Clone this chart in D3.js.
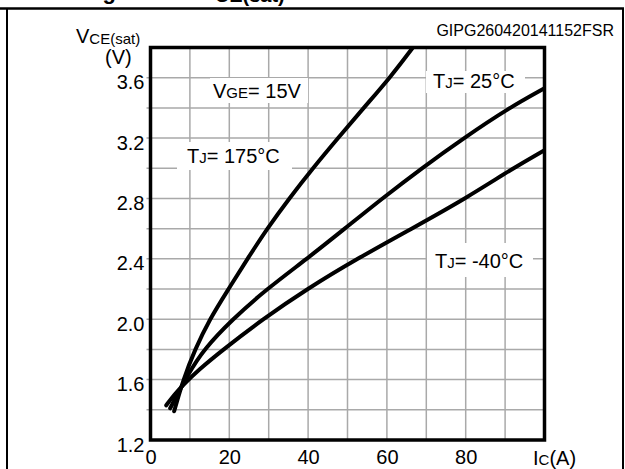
<!DOCTYPE html>
<html>
<head>
<meta charset="utf-8">
<script src="https://cdn.jsdelivr.net/npm/d3@7"></script>
<style>
  body { margin: 0; background: #fff; }
  svg { display: block; font-family: "Liberation Sans", Arial, sans-serif; }
</style>
</head>
<body>
<svg id="chart" width="625" height="469"></svg>
<script>
// collector current (A) and VCE(sat) (V)
const icT175 = [6, 8.3, 11.3, 15, 19.8, 24.6, 29.6, 35.2, 41.2, 47.6, 54.1, 60.8, 66.6];
const vT175  = [1.39, 1.6, 1.8, 2.0, 2.2, 2.4, 2.6, 2.8, 3.0, 3.2, 3.4, 3.6, 3.8];
const icT25  = [5, 9.6, 13.5, 20.8, 29.5, 39.7, 49.3, 58.8, 68.8, 79.5, 91, 100];
const vT25   = [1.41, 1.64, 1.8, 2.0, 2.2, 2.4, 2.6, 2.8, 3.0, 3.2, 3.4, 3.53];
const icTm40 = [4, 6, 8.5, 12, 18.5, 28.5, 39.7, 52.4, 66.3, 80, 92, 100];
const vTm40  = [1.43, 1.5, 1.57, 1.66, 1.8, 2.0, 2.2, 2.4, 2.6, 2.8, 3.0, 3.12];

const xTicks = [0, 20, 40, 60, 80];
const yTicks = [1.2, 1.6, 2.0, 2.4, 2.8, 3.2, 3.6];
const xGrid = [10, 20, 30, 40, 50, 60, 70, 80, 90];
const yGrid = [1.4, 1.6, 1.8, 2.0, 2.2, 2.4, 2.6, 2.8, 3.0, 3.2, 3.4, 3.6];

const svg = d3.select('#chart');
const font = '"Liberation Sans", Arial, sans-serif';

const x = d3.scaleLinear().domain([0, 100]).range([150.5, 544.5]);
const y = d3.scaleLinear().domain([1.2, 3.8]).range([440, 47.5]);

// page frame and the title that is cut off above it
svg.append('line').attr('x1', 0).attr('x2', 624).attr('y1', 8.5).attr('y2', 8.5)
  .attr('stroke', '#000').attr('stroke-width', 2.5);
svg.append('line').attr('x1', 7).attr('x2', 7).attr('y1', 8.5).attr('y2', 469)
  .attr('stroke', '#000').attr('stroke-width', 2);
svg.append('line').attr('x1', 623).attr('x2', 623).attr('y1', 8.5).attr('y2', 469)
  .attr('stroke', '#000').attr('stroke-width', 2);

let title = svg.append('text').attr('font-weight', 'bold').attr('font-size', 22).attr('y', -1);
title.append('tspan').attr('x', 83).text('Figure 7.');
title.append('tspan').attr('x', 200).text('V');
title.append('tspan').attr('font-size', 20).attr('dy', 3).text('CE(sat)');
title.append('tspan').attr('dy', -3).text(' vs. collector current');

// grid
const grid = svg.append('g').attr('stroke', '#a9a9a9').attr('stroke-width', 1.5);
grid.selectAll('.gx').data(xGrid).enter().append('line')
  .attr('x1', d => x(d)).attr('x2', d => x(d))
  .attr('y1', y(3.8)).attr('y2', y(1.2));
grid.selectAll('.gy').data(yGrid).enter().append('line')
  .attr('x1', x(0) - 4).attr('x2', x(100))
  .attr('y1', d => y(d)).attr('y2', d => y(d));

// white boxes behind the annotations
const boxes = [[210, 78, 98, 25], [426, 71, 99, 22], [177, 142, 115, 28], [427, 243, 106, 34]];
svg.selectAll('.box').data(boxes).enter().append('rect')
  .attr('x', d => d[0]).attr('y', d => d[1])
  .attr('width', d => d[2]).attr('height', d => d[3])
  .attr('fill', '#fff');

// curves
svg.append('clipPath').attr('id', 'plotclip')
  .append('rect').attr('x', x(0)).attr('y', y(3.8))
  .attr('width', x(100) - x(0)).attr('height', y(1.2) - y(3.8));

const line = d3.line()
  .x(d => x(d[0]))
  .y(d => y(d[1]))
  .curve(d3.curveBasis);

const series = [
  d3.zip(icT175, vT175),
  d3.zip(icT25, vT25),
  d3.zip(icTm40, vTm40)
];

svg.append('g').attr('clip-path', 'url(#plotclip)')
  .selectAll('path').data(series).enter().append('path')
  .attr('d', line)
  .attr('fill', 'none')
  .attr('stroke', '#000')
  .attr('stroke-width', 4)
  .attr('stroke-linecap', 'round');

// plot border
svg.append('rect')
  .attr('x', x(0)).attr('y', y(3.8))
  .attr('width', x(100) - x(0)).attr('height', y(1.2) - y(3.8))
  .attr('fill', 'none').attr('stroke', '#000').attr('stroke-width', 3.5);

// axes
const yAxis = svg.append('g')
  .attr('transform', `translate(${x(0)},0)`)
  .call(d3.axisLeft(y).tickValues(yTicks).tickSize(0).tickPadding(6).tickFormat(d3.format('.1f')));
yAxis.select('.domain').remove();
yAxis.selectAll('text').attr('font-size', 20).attr('font-family', font).attr('fill', '#000').attr('dy', '0.55em');

const xAxis = svg.append('g')
  .attr('transform', `translate(0,${y(1.2)})`)
  .call(d3.axisBottom(x).tickValues(xTicks).tickSize(0).tickPadding(10));
xAxis.select('.domain').remove();
xAxis.selectAll('text').attr('font-size', 20).attr('font-family', font).attr('fill', '#000');

// axis titles
let yl = svg.append('text').attr('font-size', 20).attr('x', 76).attr('y', 43);
yl.append('tspan').text('V');
yl.append('tspan').attr('font-size', 15).attr('dy', 1).text('CE(sat)');
svg.append('text').attr('font-size', 20).attr('x', 105).attr('y', 64).text('(V)');

let xl = svg.append('text').attr('font-size', 20).attr('x', 533).attr('y', 465);
xl.append('tspan').text('I');
xl.append('tspan').attr('font-size', 15).text('C');
xl.append('tspan').text('(A)');

svg.append('text').attr('font-size', 16).attr('x', 614).attr('y', 36)
  .attr('text-anchor', 'end').text('GIPG260420141152FSR');

// annotations
function label(px, py, main, sub, rest) {
  let t = svg.append('text').attr('font-size', 20).attr('x', px).attr('y', py);
  t.append('tspan').text(main);
  t.append('tspan').attr('font-size', 15).text(sub);
  t.append('tspan').text(rest);
}
label(213, 98, 'V', 'GE', '= 15V');
label(433, 88, 'T', 'J', '= 25°C');
label(187, 163, 'T', 'J', '= 175°C');
label(435, 268, 'T', 'J', '= -40°C');
</script>
</body>
</html>
